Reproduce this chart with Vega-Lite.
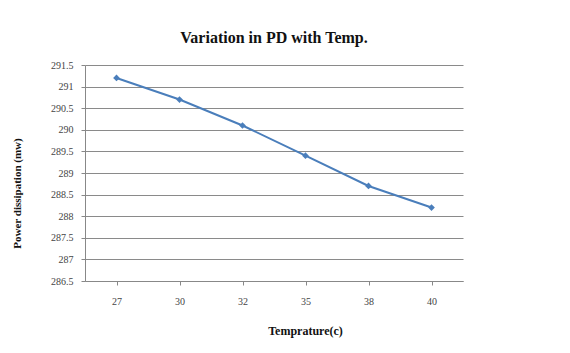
{
  "$schema": "https://vega.github.io/schema/vega-lite/v6.json",
  "width": 378,
  "height": 216,
  "autosize": "none",
  "padding": {"left": 85, "top": 65, "right": 107, "bottom": 72},
  "background": "white",
  "title": {
    "text": "Variation in PD with Temp.",
    "font": "Times New Roman, Liberation Serif, serif",
    "fontSize": 16,
    "fontWeight": "bold",
    "color": "#111111",
    "anchor": "middle",
    "offset": 14
  },
  "config": {
    "view": {"stroke": null},
    "title": {"font": "Times New Roman, Liberation Serif, serif"},
    "axis": {"labelFont": "Liberation Serif", "titleFont": "Liberation Serif"}
  },
  "data": {
    "values": [
      {"temp": "27", "pd": 291.2},
      {"temp": "30", "pd": 290.7},
      {"temp": "32", "pd": 290.1},
      {"temp": "35", "pd": 289.4},
      {"temp": "38", "pd": 288.7},
      {"temp": "40", "pd": 288.2}
    ]
  },
  "mark": {
    "type": "line",
    "color": "#4A7EBB",
    "strokeWidth": 2,
    "point": {"shape": "diamond", "size": 45, "filled": true, "color": "#4A7EBB"}
  },
  "encoding": {
    "x": {
      "field": "temp",
      "type": "ordinal",
      "sort": null,
      "scale": {"paddingInner": 0, "paddingOuter": 0},
      "axis": {
        "title": "Temprature(c)",
        "titleFontSize": 12,
        "titleFontWeight": "bold",
        "titleColor": "#111111",
        "titleX": 220,
        "titleY": 53,
        "titleBaseline": "alphabetic",
        "labelAngle": 0,
        "labelFontSize": 10,
        "labelColor": "#444444",
        "labelPadding": 11,
        "bandPosition": 0,
        "ticks": true,
        "tickSize": 4,
        "tickColor": "#888888",
        "domainColor": "#888888",
        "grid": false
      }
    },
    "y": {
      "field": "pd",
      "type": "quantitative",
      "scale": {"domain": [286.5, 291.5], "zero": false, "nice": false},
      "axis": {
        "title": "Power dissipation  (mw)",
        "titleFontSize": 11,
        "titleFontWeight": "bold",
        "titleColor": "#111111",
        "titleX": -63,
        "titleY": 128,
        "titleAnchor": "middle",
        "values": [286.5, 287, 287.5, 288, 288.5, 289, 289.5, 290, 290.5, 291, 291.5],
        "format": ".1~f",
        "labelFontSize": 10,
        "labelColor": "#444444",
        "labelPadding": 8,
        "tickSize": 4,
        "tickColor": "#888888",
        "domainColor": "#888888",
        "grid": true,
        "gridColor": "#8a8a8a",
        "gridWidth": 1
      }
    }
  }
}
